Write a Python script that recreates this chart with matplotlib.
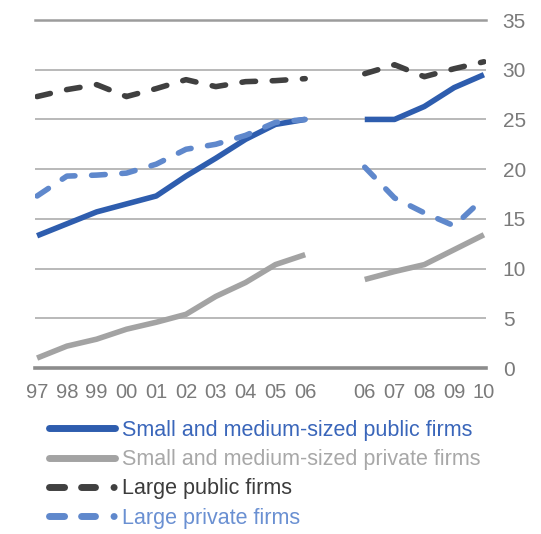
import numpy as np
import matplotlib
matplotlib.use("Agg")
import matplotlib.pyplot as plt
from matplotlib.lines import Line2D

# ---- data ----
labels = ['97', '98', '99', '00', '01', '02', '03', '04', '05', '06', '',
          '06', '07', '08', '09', '10']
nan = np.nan
sm_public = [13.3, 14.5, 15.7, 16.5, 17.3, 19.3, 21.1, 23.0, 24.5, 25.0, nan,
             25.0, 25.0, 26.3, 28.2, 29.5]
sm_private = [1.0, 2.2, 2.9, 3.9, 4.6, 5.4, 7.2, 8.6, 10.4, 11.4, nan,
              8.9, 9.7, 10.4, 11.9, 13.4]
large_public = [27.3, 28.0, 28.5, 27.3, 28.1, 29.0, 28.3, 28.8, 28.9, 29.1, nan,
                29.6, 30.5, 29.3, 30.1, 30.8]
large_private = [17.3, 19.3, 19.4, 19.6, 20.5, 22.0, 22.5, 23.4, 24.7, 25.0, nan,
                 20.2, 17.1, 15.6, 14.3, 17.1]
series_names = ['Small and medium-sized public firms',
                'Small and medium-sized private firms',
                'Large public firms',
                'Large private firms']
yticks = [0, 5, 10, 15, 20, 25, 30, 35]

# ---- style ----
c_blue = '#2E5DAE'
c_gray = '#A3A3A3'
c_dark = '#404040'
c_lblue = '#5F88CC'
txt_colors = ['#3A66BA', '#A8A8A8', '#3C3C3C', '#6A90D2']
plt.rcParams['font.family'] = ['Liberation Sans', 'DejaVu Sans']

fig = plt.figure(figsize=(5.41, 5.34), dpi=100)
ax = fig.add_axes([35/541, 1-368/534, (486-35)/541, (368-20)/534])

x = np.arange(len(labels))
lw = 4.0
dash = (2.45, 3.0)

ax.plot(x, sm_private, color=c_gray, lw=lw, solid_capstyle='butt', zorder=3)
ax.plot(x, sm_public, color=c_blue, lw=lw, solid_capstyle='butt', zorder=4)
ax.plot(x, large_public, color=c_dark, lw=lw, ls=(0, dash),
        dash_capstyle='round', zorder=3)
ax.plot(x, large_private, color=c_lblue, lw=lw, ls=(0, dash),
        dash_capstyle='round', zorder=5)

ax.set_xlim(-0.07, 15.07)
ax.set_ylim(0, 35)
ax.set_yticks(yticks)
ax.set_xticks(x)
ax.set_xticklabels(labels)

for yv in yticks:
    if yv == 0:
        ax.axhline(yv, color='#8C8C8C', lw=2.6, zorder=2, clip_on=False)
    elif yv == 35:
        ax.axhline(yv, color='#9C9C9C', lw=1.8, zorder=1, clip_on=False)
    else:
        ax.axhline(yv, color='#A6A6A6', lw=1.1, zorder=1)

for s in ax.spines.values():
    s.set_visible(False)

ax.yaxis.tick_right()
ax.tick_params(axis='y', length=0, pad=12, labelsize=15, labelcolor='#7A7A7A')
ax.tick_params(axis='x', length=0, pad=11, labelsize=14.5, labelcolor='#7A7A7A')

leg_dash = (0, (2.17, 2.45, 2.0, 2.67, 0.02, 6))
handles = [
    Line2D([], [], color=c_blue, lw=5, solid_capstyle='round'),
    Line2D([], [], color=c_gray, lw=5, solid_capstyle='round'),
    Line2D([], [], color=c_dark, lw=5, ls=leg_dash, dash_capstyle='round'),
    Line2D([], [], color=c_lblue, lw=5, ls=leg_dash, dash_capstyle='round'),
]
leg = fig.legend(handles, series_names, loc='upper left',
                 bbox_to_anchor=(48.5/541, 1-420/534), frameon=False,
                 fontsize=15.5, handlelength=3.07, handletextpad=0.35,
                 labelspacing=0.38, borderpad=0, borderaxespad=0)
for t, c in zip(leg.get_texts(), txt_colors):
    t.set_color(c)

fig.savefig('out.png', dpi=100)
